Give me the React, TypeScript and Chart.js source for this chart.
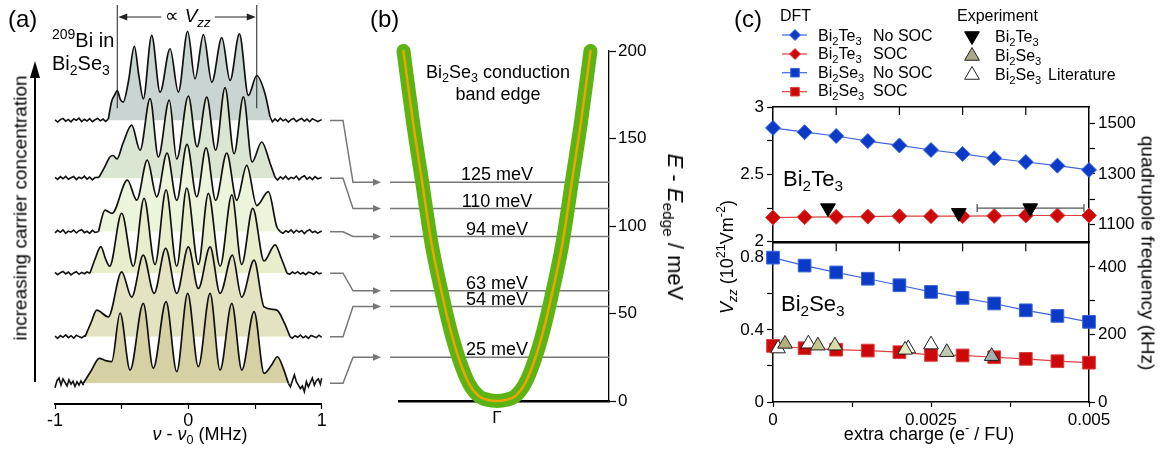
import React, { useEffect, useRef } from 'react';
import { Chart, registerables } from 'chart.js';

Chart.register(...registerables);

const FONT = "'Liberation Sans', Arial, Helvetica, sans-serif";
Chart.defaults.font.family = FONT;
Chart.defaults.color = '#000';

// ================= Panel (a): 209Bi NMR spectra, [nu - nu0 (MHz), intensity above baseline]
const trace1: number[][] = [
  [-1, 0.3], [-0.98, -0.9], [-0.96, 0.5], [-0.94, 1.2], [-0.92, -0.4], [-0.9, 0.6], [-0.88, -0.8], [-0.86, 0.9], [-0.84, 0.1], [-0.82, 1.3], [-0.8, -0.6], [-0.78, 0.7], [-0.76, -0.3], [-0.74, 1.0], [-0.72, -0.7], [-0.7, 0.4], [-0.68, 1.2], [-0.66, -0.2], [-0.64, 0.8], [-0.62, -0.5], [-0.6, 0.8],
  [-0.575, 11], [-0.553, 14.5], [-0.533, 17.1], [-0.51, 12], [-0.488, 10.5], [-0.45, 22], [-0.405, 42.3], [-0.37, 25], [-0.338, 12.4], [-0.275, 48.6], [-0.212, 16.2], [-0.137, 41], [-0.075, 16.2], [-0.005, 51], [0.05, 23.8], [0.113, 49.1], [0.176, 21.9], [0.251, 47.3], [0.313, 22.9], [0.383, 49.5], [0.45, 14.3], [0.513, 25.7], [0.575, 15.3], [0.613, 1.9],
  [0.63, -0.8], [0.65, 0.9], [0.67, -0.5], [0.69, 1.3], [0.71, -0.2], [0.73, 0.7], [0.75, -0.9], [0.77, 0.5], [0.79, 1.1], [0.81, -0.6], [0.83, 0.4], [0.85, 1.2], [0.87, -0.4], [0.89, 0.8], [0.91, -0.7], [0.93, 1.0], [0.95, 0.2], [0.97, -0.6], [1, 0.5],
];
const trace2: number[][] = [
  [-1, 0.5], [-0.98, -0.7], [-0.96, 0.9], [-0.94, -0.3], [-0.92, 1.1], [-0.9, -0.6], [-0.88, 0.3], [-0.86, 1.0], [-0.84, -0.8], [-0.82, 0.6], [-0.8, -0.2], [-0.78, 1.2], [-0.76, -0.5], [-0.74, 0.7], [-0.72, -0.9], [-0.7, 0.4],
  [-0.67, 0.5], [-0.63, 6], [-0.59, 12], [-0.565, 13], [-0.535, 11], [-0.49, 20], [-0.425, 30.3], [-0.362, 16], [-0.287, 45.5], [-0.225, 12.2], [-0.143, 44.6], [-0.087, 11], [0, 47], [0.065, 18], [0.138, 46.3], [0.205, 16], [0.275, 51.8], [0.343, 14], [0.413, 46.5], [0.478, 9.3], [0.55, 20.7], [0.613, 8.6], [0.65, 0.5],
  [0.67, -1.0], [0.69, 0.8], [0.71, -0.4], [0.73, 1.1], [0.75, -0.7], [0.77, 0.5], [0.79, -0.2], [0.81, 1.2], [0.83, -0.9], [0.85, 0.6], [0.87, 1.4], [0.89, -0.5], [0.91, 0.7], [0.93, -0.8], [0.95, 0.9], [0.97, -0.3], [1, 0.4],
];
const trace3: number[][] = [
  [-1, -0.6], [-0.98, 0.8], [-0.96, -0.3], [-0.94, 1.1], [-0.92, -0.9], [-0.9, 0.4], [-0.88, -0.2], [-0.86, 1.0], [-0.84, -0.7], [-0.82, 0.6], [-0.8, 1.2], [-0.78, -0.5], [-0.76, 0.3], [-0.74, -0.9], [-0.72, 0.8], [-0.7, -0.4],
  [-0.675, 0], [-0.625, 12.4], [-0.572, 10.5], [-0.457, 29.5], [-0.387, 18.1], [-0.308, 40.9], [-0.237, 20], [-0.16, 45], [-0.087, 18], [-0.01, 50], [0.063, 20], [0.133, 48], [0.205, 18], [0.288, 45], [0.363, 18], [0.438, 38], [0.513, 15], [0.6, 22.9], [0.663, 2.9], [0.69, 0],
  [0.71, -0.9], [0.73, 0.6], [0.75, -0.3], [0.77, 1.1], [0.79, -0.6], [0.81, 0.9], [0.83, -0.2], [0.85, 0.7], [0.87, -1.0], [0.89, 0.5], [0.91, 1.2], [0.93, -0.4], [0.95, 0.3], [0.97, -0.8], [1, 0.4],
];
const trace4: number[][] = [
  [-1, 0.5], [-0.98, -0.8], [-0.96, 0.3], [-0.94, 1.0], [-0.92, -0.4], [-0.9, 0.7], [-0.88, -0.9], [-0.86, 0.2], [-0.84, 0.9], [-0.82, -0.6], [-0.8, 0.5], [-0.78, -0.3], [-0.76, 0.7],
  [-0.738, 0], [-0.7, 8], [-0.656, 15.2], [-0.62, 8], [-0.59, 4], [-0.5, 34.3], [-0.413, 4], [-0.332, 42.8], [-0.25, 5], [-0.167, 47.6], [-0.087, 4], [-0.012, 48.6], [0.075, 5], [0.15, 45.7], [0.238, 4], [0.326, 44.8], [0.4, 5], [0.483, 37.1], [0.568, 7], [0.65, 16.2], [0.7, 8], [0.74, 0],
  [0.76, -0.6], [0.78, 0.7], [0.8, -0.2], [0.82, 0.9], [0.84, -0.5], [0.86, 0.4], [0.88, -0.8], [0.9, 0.6], [0.92, 0.1], [0.94, -0.6], [0.96, 0.8], [0.98, -0.3], [1, 0.2],
];
const trace5: number[][] = [
  [-1, 0.4], [-0.98, -0.9], [-0.96, 0.7], [-0.94, -0.3], [-0.92, 1.1], [-0.9, -0.5], [-0.88, 0.6], [-0.86, -0.8], [-0.84, 0.9], [-0.82, 0.1], [-0.8, -0.6], [-0.78, 0.5],
  [-0.775, 0], [-0.73, 8], [-0.687, 15.2], [-0.6, 11.4], [-0.5, 37.1], [-0.425, 22.7], [-0.338, 46.7], [-0.257, 24.8], [-0.17, 50.5], [-0.087, 24.8], [0, 51.4], [0.075, 27.6], [0.163, 51.4], [0.238, 24.8], [0.33, 46.7], [0.4, 22.7], [0.493, 43.8], [0.568, 17.1], [0.663, 15.2], [0.72, 8], [0.763, 0],
  [0.78, -0.8], [0.8, 0.6], [0.82, -0.3], [0.84, 1.0], [0.86, -0.6], [0.88, 0.4], [0.9, -0.9], [0.92, 0.7], [0.94, 0.1], [0.96, -0.5], [0.98, 0.9], [1, -0.3],
];
const trace6: number[][] = [
  [-1, -2.5], [-0.985, 1.5], [-0.97, 3], [-0.955, -1], [-0.94, 2.5], [-0.925, 0.5], [-0.91, -1.5], [-0.895, 2], [-0.88, -0.5], [-0.865, 1.2], [-0.85, -1.8], [-0.835, 0.9], [-0.82, -1], [-0.805, 1.4], [-0.79, -0.6],
  [-0.788, 0], [-0.73, 7], [-0.668, 14.3], [-0.62, 13], [-0.575, 12.4], [-0.512, 40.2], [-0.437, 7.6], [-0.338, 45.7], [-0.263, 8.6], [-0.167, 46.7], [-0.087, 6.7], [-0.005, 51.4], [0.075, 9.5], [0.163, 51.4], [0.238, 7.6], [0.326, 45.7], [0.401, 7.6], [0.493, 41], [0.568, 5.7], [0.62, 10], [0.668, 15.2], [0.71, 9], [0.75, 0],
  [0.765, -2], [0.78, 1.5], [0.795, 4.8], [0.81, 1], [0.825, -1], [0.84, -3], [0.855, -1.5], [0.87, -4.8], [0.885, 1], [0.9, -2], [0.915, 0.5], [0.93, 3], [0.945, -1], [0.96, 1.5], [0.975, 2.5], [0.99, -0.5], [1, 3],
];
const traces = [trace1, trace2, trace3, trace4, trace5, trace6];
const traceBase = [160.3, 127.3, 96.7, 73.0, 36.7, 10.1];
const signalStart = [-0.6, -0.67, -0.675, -0.738, -0.775, -0.788];
const signalEnd = [0.613, 0.65, 0.69, 0.74, 0.763, 0.75];
const vzzSatellites = [-0.533, 0.513];
const nuTicks = [-1, -0.5, 0, 0.5, 1];
const nuTickLabels = ['-1', '', '0', '', '1'];

// ================= Panel (b): conduction band edge
const bandK = [-1, -0.9, -0.8, -0.7, -0.6, -0.5, -0.4, -0.3, -0.2, -0.1, 0, 0.1, 0.2, 0.3, 0.4, 0.5, 0.6, 0.7, 0.8, 0.9, 1];
const bandE = [200, 160, 125, 90, 64, 41, 23, 10, 3, 0.7, 0, 0.7, 3, 10, 23, 41, 64, 90, 125, 160, 200];
const levelE = [125, 110, 94, 63, 54, 25];
const levelLabels = ['125 meV', '110 meV', '94 meV', '63 meV', '54 meV', '25 meV'];
const energyTicks = [0, 50, 100, 150, 200];
const kTicks = [0];
const kTickLabels = ['Γ'];

// ================= Panel (c): Vzz vs extra charge
const chargeX = [0, 0.0005, 0.001, 0.0015, 0.002, 0.0025, 0.003, 0.0035, 0.004, 0.0045, 0.005];
const te3NoSoc = [2.845, 2.813, 2.785, 2.747, 2.715, 2.681, 2.652, 2.62, 2.592, 2.565, 2.533];
const te3Soc = [2.18, 2.183, 2.185, 2.187, 2.19, 2.19, 2.19, 2.192, 2.195, 2.195, 2.195];
const se3NoSoc = [0.8, 0.756, 0.718, 0.683, 0.647, 0.61, 0.577, 0.546, 0.508, 0.477, 0.444];
const se3Soc = [0.311, 0.298, 0.29, 0.285, 0.276, 0.261, 0.258, 0.248, 0.239, 0.226, 0.218];
const te3ExpX = [0.00087, 0.00294, 0.00407];
const te3ExpY = [2.25, 2.215, 2.25];
const te3ErrLo = [null, null, 0.00323];
const te3ErrHi = [null, null, 0.00492];
const se3ExpX = [0.00019, 0.00071, 0.00098, 0.00209, 0.00275, 0.00346];
const se3ExpY = [0.322, 0.312, 0.312, 0.289, 0.276, 0.254];
const se3LitX = [0.00008, 0.00056, 0.00214, 0.0025];
const se3LitY = [0.296, 0.323, 0.296, 0.318];
const te3VzzTicks = [2, 2.25, 2.5, 2.75, 3];
const te3VzzLabels = ['2', '', '2.5', '', '3'];
const te3FreqTicks = [1100, 1200, 1300, 1400, 1500];
const te3FreqLabels = ['1100', '', '1300', '', '1500'];
const se3VzzTicks = [0, 0.2, 0.4, 0.6, 0.8];
const se3VzzLabels = ['0', '', '0.4', '', '0.8'];
const se3FreqTicks = [0, 100, 200, 300, 400];
const se3FreqLabels = ['0', '', '200', '', '400'];
const chargeTicks = [0, 0.00125, 0.0025, 0.00375, 0.005];
const chargeLabels = ['0', '', '0.0025', '', '0.005'];
const innerChargeTicks = [0.001, 0.002, 0.003, 0.004];

// styles
const traceFill = ['#c8d5d2', '#dbe6d2', '#edf4dc', '#e8eecb', '#e3e3c1', '#d6d0a5'];
const se3ExpColors = ['#b5ad7c', '#c9c592', '#d9dcab', '#e3ebc2', '#bccbb0', '#a3b2ad'];
const BLUE = '#0b3bc6';
const BLUE_L = '#3d66dc';
const RED = '#cc0808';
const RED_L = '#dd4040';

function drawMarker(ctx: any, kind: string, x: number, y: number, r: number, fill: string, stroke: string) {
  ctx.beginPath();
  if (kind === 'diamond') {
    ctx.moveTo(x, y - r); ctx.lineTo(x + r, y); ctx.lineTo(x, y + r); ctx.lineTo(x - r, y);
  } else if (kind === 'square') {
    ctx.rect(x - r, y - r, 2 * r, 2 * r);
  } else if (kind === 'triUp') {
    ctx.moveTo(x, y - r); ctx.lineTo(x + r * 0.866, y + r / 2); ctx.lineTo(x - r * 0.866, y + r / 2);
  } else {
    ctx.moveTo(x, y + r); ctx.lineTo(x + r * 0.866, y - r / 2); ctx.lineTo(x - r * 0.866, y - r / 2);
  }
  ctx.closePath();
  ctx.fillStyle = fill; ctx.fill();
  ctx.strokeStyle = stroke; ctx.lineWidth = 1; ctx.stroke();
}

function arrowHead(ctx: any, tipX: number, tipY: number, dir: number, len: number, half: number) {
  ctx.beginPath();
  ctx.moveTo(tipX, tipY);
  ctx.lineTo(tipX - dir * len, tipY - half);
  ctx.lineTo(tipX - dir * len, tipY + half);
  ctx.closePath();
  ctx.fill();
}

const aAnnot = {
  id: 'aAnnot',
  afterDraw(chart: any) {
    const { ctx } = chart;
    const xs = chart.scales.x;
    const ys = chart.scales.y;
    ctx.save();
    ctx.strokeStyle = '#000'; ctx.fillStyle = '#000';
    ctx.lineWidth = 2;
    ctx.beginPath(); ctx.moveTo(35, 382); ctx.lineTo(35, 74); ctx.stroke();
    ctx.beginPath(); ctx.moveTo(35, 61); ctx.lineTo(30, 78); ctx.lineTo(40, 78); ctx.closePath(); ctx.fill();
    const xl = xs.getPixelForValue(vzzSatellites[0]);
    const xr = xs.getPixelForValue(vzzSatellites[1]);
    const yb = ys.getPixelForValue(traceBase[0] + 7);
    ctx.lineWidth = 1; ctx.strokeStyle = '#222'; ctx.fillStyle = '#222';
    ctx.beginPath(); ctx.moveTo(xl, 5); ctx.lineTo(xl, yb); ctx.moveTo(xr, 5); ctx.lineTo(xr, yb); ctx.stroke();
    ctx.beginPath(); ctx.moveTo(xl + 6, 17); ctx.lineTo(xl + 44, 17); ctx.moveTo(xr - 42, 17); ctx.lineTo(xr - 6, 17); ctx.stroke();
    arrowHead(ctx, xl + 1, 17, -1, 9, 3.5);
    arrowHead(ctx, xr - 1, 17, 1, 9, 3.5);
    ctx.restore();
  },
};

const bAnnot = {
  id: 'bAnnot',
  beforeDatasetsDraw(chart: any) {
    const { ctx, chartArea } = chart;
    const y = chart.scales.y;
    const left = chartArea.left;
    ctx.save();
    ctx.strokeStyle = '#777'; ctx.fillStyle = '#777'; ctx.lineWidth = 1.5;
    levelE.forEach((E, i) => {
      const ye = y.getPixelForValue(E);
      const ys = y.getPixelForValue(traceBase[i]);
      ctx.beginPath(); ctx.moveTo(left - 9, ye); ctx.lineTo(chartArea.right, ye); ctx.stroke();
      ctx.beginPath();
      ctx.moveTo(left - 69, ys); ctx.lineTo(left - 56, ys); ctx.lineTo(left - 46, ye); ctx.lineTo(left - 25, ye);
      ctx.stroke();
      arrowHead(ctx, left - 18, ye, 1, 8, 3.5);
    });
    ctx.restore();
  },
  afterDatasetsDraw(chart: any) {
    const { ctx } = chart;
    const y = chart.scales.y;
    const x = chart.scales.x;
    ctx.save();
    ctx.fillStyle = '#000';
    ctx.font = `18px ${FONT}`;
    ctx.textAlign = 'center';
    ctx.textBaseline = 'alphabetic';
    levelE.forEach((E, i) => {
      ctx.fillText(levelLabels[i], x.getPixelForValue(0), y.getPixelForValue(E) - 2);
    });
    ctx.restore();
  },
};

function innerTicks(id: string, legend: boolean) {
  return {
    id,
    afterDraw(chart: any) {
      const { ctx, chartArea } = chart;
      const x = chart.scales.x;
      ctx.save();
      ctx.strokeStyle = '#000'; ctx.lineWidth = 1.2;
      innerChargeTicks.forEach((v) => {
        const px = x.getPixelForValue(v);
        ctx.beginPath(); ctx.moveTo(px, chartArea.top); ctx.lineTo(px, chartArea.top + 8); ctx.stroke();
      });
      if (legend) {
        const rows = [35, 54, 72.7, 91.7];
        const cols = [BLUE_L, RED_L, BLUE_L, RED_L];
        const fills = [BLUE, RED, BLUE, RED];
        rows.forEach((ry, i) => {
          ctx.strokeStyle = cols[i]; ctx.lineWidth = 1.2;
          ctx.beginPath(); ctx.moveTo(82, ry); ctx.lineTo(107, ry); ctx.stroke();
          if (i < 2) drawMarker(ctx, 'diamond', 95, ry, 5.5, fills[i], cols[i]);
          else drawMarker(ctx, 'square', 95, ry, 4.3, fills[i], cols[i]);
        });
        drawMarker(ctx, 'triDown', 272, 36, 8.5, '#000', '#000');
        drawMarker(ctx, 'triUp', 272, 56, 8.5, '#aaa98a', '#222');
        drawMarker(ctx, 'triUp', 272, 75, 8.5, '#fff', '#222');
      }
      ctx.restore();
    },
  };
}

const tickCb = (labels: string[]) => (_v: any, i: number) => labels[i];
const setTicks = (vals: number[]) => (s: any) => { s.ticks = vals.map((v) => ({ value: v })); };

function axisStyle(size: number, labels: string[], vals: number[], tl: number, pad: number) {
  return {
    afterBuildTicks: setTicks(vals),
    ticks: { callback: tickCb(labels), font: { size }, color: '#000', padding: pad, autoSkip: false, maxRotation: 0 },
    grid: { drawOnChartArea: false, tickLength: tl, tickColor: '#000', tickWidth: 1.2 },
    border: { display: true, color: '#000', width: 1.5 },
  };
}

const frameAxis = (h: number, pos: string) => ({
  type: 'linear', position: pos, min: 0, max: 0.005,
  ticks: { display: false }, grid: { drawOnChartArea: false, drawTicks: false },
  border: { display: true, color: '#000', width: 1.5 },
  afterFit: (s: any) => { s.height = h; },
});

const baseOpts = {
  responsive: false, animation: false, devicePixelRatio: 1, events: [],
  plugins: { legend: { display: false }, tooltip: { enabled: false } },
};

type TP = { x: number; y: number; size: number; anchor?: string; children: any };
function Txt({ x, y, size, anchor, children }: TP) {
  const style: any = {
    position: 'absolute', left: x, top: y - 0.8465 * size, fontSize: size, lineHeight: `${size}px`,
    whiteSpace: 'nowrap', fontFamily: FONT, color: '#000',
  };
  if (anchor === 'middle') style.transform = 'translateX(-50%)';
  return <div style={style}>{children}</div>;
}
function Rot({ cx, cy, size, deg, children }: any) {
  return (
    <div style={{
      position: 'absolute', left: cx, top: cy, fontSize: size, lineHeight: `${size}px`, whiteSpace: 'nowrap',
      fontFamily: FONT, color: '#000', transform: `translate(-50%,-50%) rotate(${deg}deg)`,
    }}>{children}</div>
  );
}
const Sub = ({ children }: any) => <span style={{ fontSize: '0.7em', verticalAlign: '-0.35em', lineHeight: 0 }}>{children}</span>;
const Sup = ({ children }: any) => <span style={{ fontSize: '0.7em', verticalAlign: '0.6em', lineHeight: 0 }}>{children}</span>;
const BiTe = () => <>Bi<Sub>2</Sub>Te<Sub>3</Sub></>;
const BiSe = () => <>Bi<Sub>2</Sub>Se<Sub>3</Sub></>;

export default function App() {
  const aRef = useRef<HTMLCanvasElement>(null);
  const bRef = useRef<HTMLCanvasElement>(null);
  const c1Ref = useRef<HTMLCanvasElement>(null);
  const c2Ref = useRef<HTMLCanvasElement>(null);

  useEffect(() => {
    const charts: any[] = [];

    // ---------- (a)
    const aSets: any[] = [];
    traces.forEach((tr, i) => {
      const toPts = (arr: number[][]) => arr.map((p) => ({ x: p[0], y: traceBase[i] + p[1] }));
      const left = tr.filter((p) => p[0] <= signalStart[i]);
      const sig = tr.filter((p) => p[0] >= signalStart[i] && p[0] <= signalEnd[i]);
      const right = tr.filter((p) => p[0] >= signalEnd[i]);
      aSets.push({
        data: toPts(sig), borderColor: '#111', borderWidth: 1.7, pointRadius: 0,
        cubicInterpolationMode: 'monotone', backgroundColor: traceFill[i],
        fill: { target: { value: traceBase[i] }, above: traceFill[i], below: 'rgba(0,0,0,0)' },
        order: 6 - i, clip: false,
      });
      [left, right].forEach((n) => aSets.push({
        data: toPts(n), borderColor: '#111', borderWidth: 1.6, pointRadius: 0, tension: 0,
        fill: false, order: 6 - i, clip: false,
      }));
    });
    charts.push(new Chart(aRef.current as any, {
      type: 'line',
      data: { datasets: aSets },
      options: {
        ...baseOpts,
        layout: { padding: { left: 55, right: 8.3, top: 15, bottom: 0 } },
        scales: {
          x: {
            type: 'linear', min: -1, max: 1,
            ...axisStyle(18, nuTickLabels, nuTicks, 5, 1),
            border: { display: true, color: '#000', width: 2 },
            afterFit: (s: any) => { s.height = 46; },
          },
          y: { type: 'linear', display: false, min: -3 / 1.75, max: 386 / 1.75 },
        },
      } as any,
      plugins: [aAnnot],
    } as any));

    // ---------- (b)
    const bandData = bandK.map((k, i) => ({ x: k, y: bandE[i] }));
    charts.push(new Chart(bRef.current as any, {
      type: 'line',
      data: {
        datasets: [
          { data: bandData, borderColor: '#5cb314', borderWidth: 14, pointRadius: 0, cubicInterpolationMode: 'monotone', borderCapStyle: 'round', borderJoinStyle: 'round', clip: false, order: 1 },
          { data: bandData, borderColor: '#eda500', borderWidth: 2.5, pointRadius: 0, cubicInterpolationMode: 'monotone', borderCapStyle: 'round', clip: false, order: 0 },
        ],
      },
      options: {
        ...baseOpts,
        layout: { padding: { left: 77, right: 0, top: 51, bottom: 0 } },
        scales: {
          x: {
            type: 'linear', min: -1.048, max: 1.198,
            ...axisStyle(17, kTickLabels, kTicks, 6, 1),
            border: { display: true, color: '#000', width: 2.5 },
            afterFit: (s: any) => { s.height = 49; },
          },
          y: {
            type: 'linear', position: 'right', min: 0, max: 200,
            ...axisStyle(17, energyTicks.map(String), energyTicks, 7, 2),
            border: { display: true, color: '#000', width: 1.3 },
            afterFit: (s: any) => { s.width = 59; },
          },
        },
      } as any,
      plugins: [bAnnot],
    } as any));

    // ---------- (c) top: Bi2Te3
    const ptsOf = (xs: number[], ys: number[]) => xs.map((x, i) => ({ x, y: ys[i] }));
    const errData: any[] = [];
    te3ErrLo.forEach((lo, i) => {
      if (lo != null) {
        errData.push({ x: lo, y: te3ExpY[i] }, { x: te3ErrHi[i], y: te3ExpY[i] });
      }
    });
    charts.push(new Chart(c1Ref.current as any, {
      type: 'line',
      data: {
        datasets: [
          { data: ptsOf(chargeX, te3NoSoc), borderColor: BLUE_L, borderWidth: 1.2, pointStyle: 'rectRot', pointRadius: 7.5, pointBackgroundColor: BLUE, pointBorderColor: BLUE_L, pointBorderWidth: 1, order: 3, clip: false },
          { data: ptsOf(chargeX, te3Soc), borderColor: RED_L, borderWidth: 1.2, pointStyle: 'rectRot', pointRadius: 7.5, pointBackgroundColor: RED, pointBorderColor: RED_L, pointBorderWidth: 1, order: 2, clip: false },
          { data: errData, borderColor: '#555', borderWidth: 1.3, pointStyle: 'line', rotation: 90, pointRadius: 4, pointBorderColor: '#555', pointBorderWidth: 1.3, order: 1, clip: false },
          { data: ptsOf(te3ExpX, te3ExpY), showLine: false, pointStyle: 'triangle', rotation: 180, pointRadius: 8.5, pointBackgroundColor: '#000', pointBorderColor: '#000', pointBorderWidth: 1, order: 0, clip: false },
        ],
      },
      options: {
        ...baseOpts,
        layout: { padding: 0 },
        scales: {
          x: frameAxis(13, 'bottom'),
          xTop: frameAxis(107, 'top'),
          y: {
            type: 'linear', position: 'left', min: 2, max: 3,
            ...axisStyle(17, te3VzzLabels, te3VzzTicks, 6, 3),
            afterFit: (s: any) => { s.width = 73; },
          },
          yR: {
            type: 'linear', position: 'right', min: 1033, max: 1563,
            ...axisStyle(17, te3FreqLabels, te3FreqTicks, 6, 3),
            afterFit: (s: any) => { s.width = 73; },
          },
        },
      } as any,
      plugins: [innerTicks('c1extra', true)],
    } as any));

    // ---------- (c) bottom: Bi2Se3
    charts.push(new Chart(c2Ref.current as any, {
      type: 'line',
      data: {
        datasets: [
          { data: ptsOf(chargeX, se3NoSoc), borderColor: BLUE_L, borderWidth: 1.2, pointStyle: 'rect', pointRadius: 9, pointBackgroundColor: BLUE, pointBorderColor: BLUE_L, pointBorderWidth: 1, order: 3, clip: false },
          { data: ptsOf(chargeX, se3Soc), borderColor: RED_L, borderWidth: 1.2, pointStyle: 'rect', pointRadius: 9, pointBackgroundColor: RED, pointBorderColor: RED_L, pointBorderWidth: 1, order: 2, clip: false },
          { data: ptsOf(se3LitX, se3LitY), showLine: false, pointStyle: 'triangle', pointRadius: 8.5, pointBackgroundColor: '#fff', pointBorderColor: '#222', pointBorderWidth: 1, order: 1, clip: false },
          { data: ptsOf(se3ExpX, se3ExpY), showLine: false, pointStyle: 'triangle', pointRadius: 8.5, pointBackgroundColor: se3ExpColors, pointBorderColor: '#222', pointBorderWidth: 1, order: 0, clip: false },
        ],
      },
      options: {
        ...baseOpts,
        layout: { padding: 0 },
        scales: {
          x: {
            type: 'linear', position: 'bottom', min: 0, max: 0.005,
            ...axisStyle(17, chargeLabels, chargeTicks, 5, 3),
            afterFit: (s: any) => { s.height = 48; },
          },
          xTop: frameAxis(12, 'top'),
          y: {
            type: 'linear', position: 'left', min: 0, max: 0.88,
            ...axisStyle(17, se3VzzLabels, se3VzzTicks, 6, 3),
            afterFit: (s: any) => { s.width = 73; },
          },
          yR: {
            type: 'linear', position: 'right', min: 0, max: 470,
            ...axisStyle(17, se3FreqLabels, se3FreqTicks, 6, 3),
            afterFit: (s: any) => { s.width = 73; },
          },
        },
      } as any,
      plugins: [innerTicks('c2extra', false)],
    } as any));

    return () => { charts.forEach((c) => c.destroy()); };
  }, []);

  const cv = (left: number, top: number, w: number, h: number): any => ({ position: 'absolute', left, top, width: w, height: h });

  return (
    <div style={{ position: 'absolute', left: 0, top: 0, width: 1162, height: 450, overflow: 'hidden', background: '#fff', fontFamily: FONT }}>
      <canvas ref={aRef} width={330} height={450} style={cv(0, 0, 330, 450)} />
      <canvas ref={bRef} width={346} height={450} style={cv(322, 0, 346, 450)} />
      <canvas ref={c1Ref} width={462} height={255} style={cv(700, 0, 462, 255)} />
      <canvas ref={c2Ref} width={462} height={220} style={cv(700, 230, 462, 220)} />

      {/* panel (a) */}
      <Txt x={8} y={27} size={24}>(a)</Txt>
      <Txt x={52} y={47} size={20}><Sup>209</Sup>Bi in</Txt>
      <Txt x={52} y={70} size={20}><BiSe /></Txt>
      <Txt x={188} y={22} size={19} anchor="middle">∝ <i>V</i><Sub><i>zz</i></Sub></Txt>
      <Rot cx={20} cy={208} size={19} deg={-90}>increasing carrier concentration</Rot>
      <Txt x={200} y={440} size={18} anchor="middle"><i>ν</i> - <i>ν</i><Sub>0</Sub> (MHz)</Txt>

      {/* panel (b) */}
      <Txt x={370} y={27} size={24}>(b)</Txt>
      <Txt x={498} y={78} size={18} anchor="middle"><BiSe /> conduction</Txt>
      <Txt x={498} y={100} size={18} anchor="middle">band edge</Txt>
      <Rot cx={675} cy={227} size={22} deg={90}><i>E</i> - <i>E</i><Sub>edge</Sub> / meV</Rot>

      {/* panel (c) */}
      <Txt x={734} y={27} size={24}>(c)</Txt>
      <Txt x={780} y={21.7} size={16}>DFT</Txt>
      <Txt x={818} y={41.5} size={16}><BiTe /></Txt>
      <Txt x={873} y={41.5} size={16}>No SOC</Txt>
      <Txt x={818} y={60} size={16}><BiTe /></Txt>
      <Txt x={873} y={60} size={16}>SOC</Txt>
      <Txt x={818} y={78.3} size={16}><BiSe /></Txt>
      <Txt x={873} y={78.3} size={16}>No SOC</Txt>
      <Txt x={818} y={97} size={16}><BiSe /></Txt>
      <Txt x={873} y={97} size={16}>SOC</Txt>
      <Txt x={957} y={21.7} size={16}>Experiment</Txt>
      <Txt x={995} y={43} size={16}><BiTe /></Txt>
      <Txt x={995} y={61.7} size={16}><BiSe /></Txt>
      <Txt x={995} y={80.5} size={16}><BiSe /></Txt>
      <Txt x={1048} y={80.5} size={16}>Literature</Txt>
      <Txt x={783} y={187} size={22}><BiTe /></Txt>
      <Txt x={781} y={312} size={22}><BiSe /></Txt>
      <Rot cx={727} cy={257} size={18} deg={-90}><i>V</i><Sub><i>zz</i></Sub> (10<Sup>21</Sup>Vm<Sup>-2</Sup>)</Rot>
      <Rot cx={1148} cy={253} size={19} deg={90}>quadrupole frequency (kHz)</Rot>
      <Txt x={929} y={440} size={18} anchor="middle">extra charge (e<Sup>-</Sup> / FU)</Txt>
    </div>
  );
}
